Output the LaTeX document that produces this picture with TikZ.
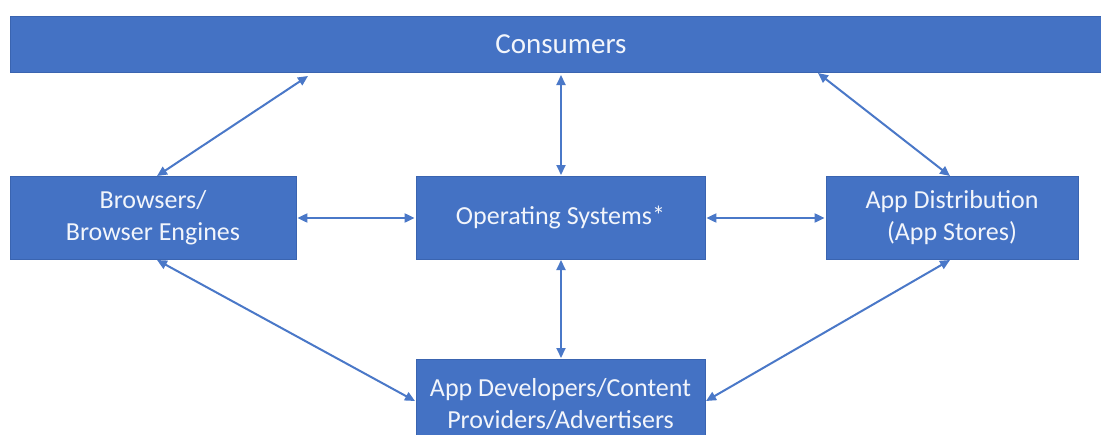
\documentclass[tikz,border=0pt]{standalone}
\usepackage{fontspec}
\setmainfont{Carlito}
\usetikzlibrary{arrows.meta}
\definecolor{boxblue}{HTML}{4472C4}
\definecolor{boxedge}{HTML}{3A64B0}
\definecolor{linkblue}{HTML}{4A78C8}
\definecolor{labelwhite}{HTML}{F2F5FB}
\begin{document}
\begin{tikzpicture}[x=1pt,y=-1pt,
  block/.style={draw=boxedge, line width=0.8pt, fill=boxblue, text=labelwhite,
    align=center, inner sep=0pt,
    font=\fontsize{26}{32}\selectfont},
  link/.style={draw=linkblue, line width=2pt,
    {Triangle[length=10pt,width=9pt]}-{Triangle[length=10pt,width=9pt]}}]
  \useasboundingbox (0,0) rectangle (1101,434);
  \fill[white] (0,0) rectangle (1101,434);

  % boxes (the top bar runs past the right edge of the page)
  \node[block, minimum width=1102pt, minimum height=56pt,
        font=\fontsize{29}{34}\selectfont] (cons) at (561,44) {Consumers};
  \node[block, minimum width=286pt, minimum height=83pt] (br) at (153,218)
       {Browsers/\\Browser Engines};
  \node[block, minimum width=289pt, minimum height=83pt] (os) at (560.5,218)
       {Operating Systems*};
  \node[block, minimum width=252pt, minimum height=83pt] (ad) at (952,218)
       {App Distribution\\(App Stores)};
  \node[block, minimum width=289pt, minimum height=90pt] (dev) at (560.5,404)
       {App Developers/Content\\Providers/Advertisers};

  % attachment points on box edges
  \coordinate (consL) at (308,76);
  \coordinate (consM) at (561,75);
  \coordinate (consR) at (818,73);
  \coordinate (brT) at (157,176);
  \coordinate (brB) at (157,260);
  \coordinate (osT) at (561,175);
  \coordinate (osB) at (561,260);
  \coordinate (adT) at (950,176);
  \coordinate (adB) at (950,260);
  \coordinate (devT) at (561,358);
  \coordinate (devL) at (415,401);
  \coordinate (devR) at (706,401);

  % connectors
  \draw[link] (consL) -- (brT);
  \draw[link] (consM) -- (osT);
  \draw[link] (consR) -- (adT);
  \draw[link] ([xshift=1pt]br.east) -- ([xshift=-1pt]os.west);
  \draw[link] ([xshift=1pt]os.east) -- ([xshift=-1pt]ad.west);
  \draw[link] (brB) -- (devL);
  \draw[link] (osB) -- (devT);
  \draw[link] (adB) -- (devR);
\end{tikzpicture}
\end{document}
